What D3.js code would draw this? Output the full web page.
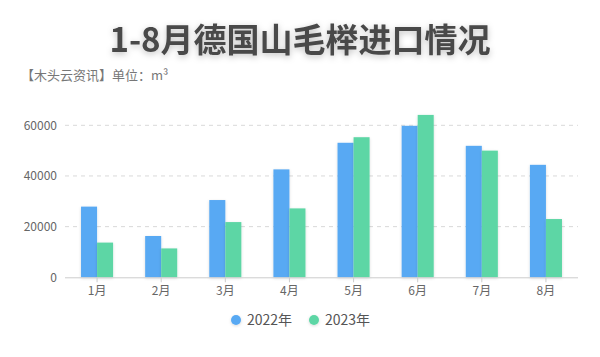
<!DOCTYPE html>
<html><head><meta charset="utf-8">
<script src="https://cdn.jsdelivr.net/npm/d3@7"></script>
<style>
html,body{margin:0;padding:0;background:#fff;}
svg{display:block;font-family:"Noto Sans CJK SC","Noto Sans",sans-serif;}
</style></head>
<body><svg id="c" width="600" height="357"></svg>
<script>
const months = ["1月","2月","3月","4月","5月","6月","7月","8月"];
const seriesNames = ["2022年","2023年"];
const values2022 = [27900, 16300, 30500, 42600, 53100, 59800, 51900, 44400];
const values2023 = [13700, 11400, 21800, 27200, 55300, 64100, 50000, 23000];
const yTicks = [0, 20000, 40000, 60000];
const colors = ["#58a9f3", "#5dd6a5"];

const svg = d3.select("#c");
const defs = svg.append("defs");
const f = defs.append("filter").attr("id","sh").attr("x","-30%").attr("y","-30%").attr("width","160%").attr("height","160%");
f.append("feDropShadow").attr("dx",0).attr("dy",1).attr("stdDeviation",1.5).attr("flood-color","#000").attr("flood-opacity",0.15);
const ft = defs.append("filter").attr("id","tsh").attr("x","-10%").attr("y","-30%").attr("width","120%").attr("height","180%");
ft.append("feDropShadow").attr("dx",0).attr("dy",2).attr("stdDeviation",3).attr("flood-color","#000").attr("flood-opacity",0.25);

const x = d3.scaleBand().domain(months).range([65, 578]).padding(0);
const xs = d3.scaleBand().domain(seriesNames).range([0, x.bandwidth()]).paddingOuter(1).paddingInner(0);
const y = d3.scaleLinear().domain([0, 60000]).range([277.3, 125.3]);

// grid
svg.append("g").selectAll("line").data(yTicks.filter(d=>d>0)).join("line")
  .attr("x1",65).attr("x2",578).attr("y1",d=>y(d)).attr("y2",d=>y(d))
  .attr("stroke","#d9d9d9").attr("stroke-dasharray","4,4").attr("stroke-width",1);

// y labels
const yAxis = d3.axisLeft(y).tickValues(yTicks).tickSize(0).tickPadding(8).tickFormat(d3.format("d"));
const gy = svg.append("g").attr("transform","translate(65,0)").call(yAxis);
gy.select(".domain").remove();
gy.selectAll("text").attr("fill","#666").attr("font-size",12).attr("font-family","'Noto Sans CJK SC',sans-serif");

// bars
const data = months.map((m,i)=>({m, v:[values2022[i], values2023[i]]}));
const g = svg.append("g");
data.forEach(d=>{
  d.v.forEach((v,j)=>{
    g.append("rect")
      .attr("x", x(d.m)+xs(seriesNames[j]))
      .attr("width", xs.bandwidth())
      .attr("y", y(v))
      .attr("height", y(0)-y(v))
      .attr("fill", colors[j])
      .attr("filter","url(#sh)");
  });
});

// x axis
const xAxis = d3.axisBottom(x).tickSize(5).tickPadding(4);
const gx = svg.append("g").attr("transform",`translate(0,${y(0)})`).call(xAxis);
gx.select(".domain").attr("stroke","#ccc").attr("d",`M65,0.5H578`);
gx.selectAll(".tick line").attr("stroke","#ccc");
gx.selectAll("text").attr("fill","#666").attr("font-size",12).attr("font-family","'Noto Sans CJK SC',sans-serif");

// title
svg.append("text").attr("x",300).attr("y",52).attr("text-anchor","middle")
  .attr("font-size",33).attr("font-weight","bold").attr("fill","#484848")
  .attr("filter","url(#tsh)")
  .text("1-8月德国山毛榉进口情况");
svg.append("text").attr("x",21).attr("y",80).attr("font-size",13).attr("fill","#777")
  .text("【木头云资讯】单位：m³");

// legend
const lg = svg.append("g");
const lx = [236, 314];
seriesNames.forEach((s,i)=>{
  lg.append("circle").attr("cx",lx[i]).attr("cy",320).attr("r",5).attr("fill",colors[i]).attr("filter","url(#sh)");
  lg.append("text").attr("x",lx[i]+11).attr("y",320).attr("dy","0.35em").attr("font-size",14).attr("fill","#555").text(s);
});
</script></body></html>
